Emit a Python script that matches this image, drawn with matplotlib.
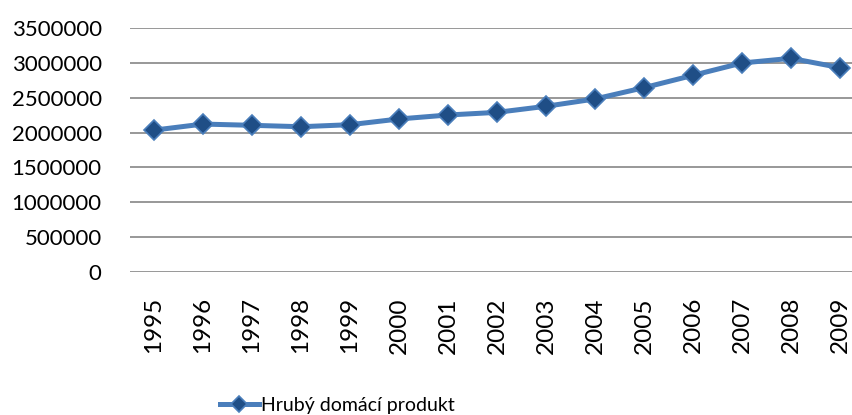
import matplotlib.pyplot as plt
from matplotlib.ticker import FuncFormatter

years = ["1995", "1996", "1997", "1998", "1999", "2000", "2001", "2002",
         "2003", "2004", "2005", "2006", "2007", "2008", "2009"]
hdp = [2035000, 2122000, 2104000, 2084000, 2113000, 2195000, 2252000, 2290000,
       2377000, 2482000, 2644000, 2821000, 2998000, 3065000, 2931000]
series_name = "Hrubý domácí produkt"

plt.rcParams['font.family'] = ['Lato', 'DejaVu Sans']

W, H = 852, 415
fig = plt.figure(figsize=(W / 100, H / 100), dpi=100)
ax = fig.add_axes([129.5 / W, (H - 272) / H, 1 - 129.5 / W, (272 - 28) / H])

x = list(range(len(years)))
ax.plot(x, hdp, color='#4a7ebb', lw=3.6, marker='D', ms=10,
        markerfacecolor='#1f4e86', markeredgecolor='#4a7ebb', mew=1.2,
        label=series_name, zorder=3)

ax.set_ylim(0, 3500000)
ax.set_xlim(-0.5, (W - 154) / 49)
ax.set_yticks(range(0, 3500001, 500000))
ax.yaxis.set_major_formatter(FuncFormatter(lambda v, p: f"{int(v)}"))
ax.set_xticks(x)
ax.set_xticklabels(years, rotation=90)
ax.grid(axis='y', color='#868686', lw=1.2)
ax.set_axisbelow(True)
for s in ax.spines.values():
    s.set_visible(False)
ax.tick_params(length=0)
ax.tick_params(axis='y', pad=20, labelsize=16)
ax.tick_params(axis='x', pad=18, labelsize=17.5)

fig.legend(loc='center', bbox_to_anchor=(337 / W, (H - 405) / H), frameon=False,
           fontsize=14, handlelength=2.0, handletextpad=0.1, markerscale=0.85)

fig.savefig('out.png', dpi=100)
